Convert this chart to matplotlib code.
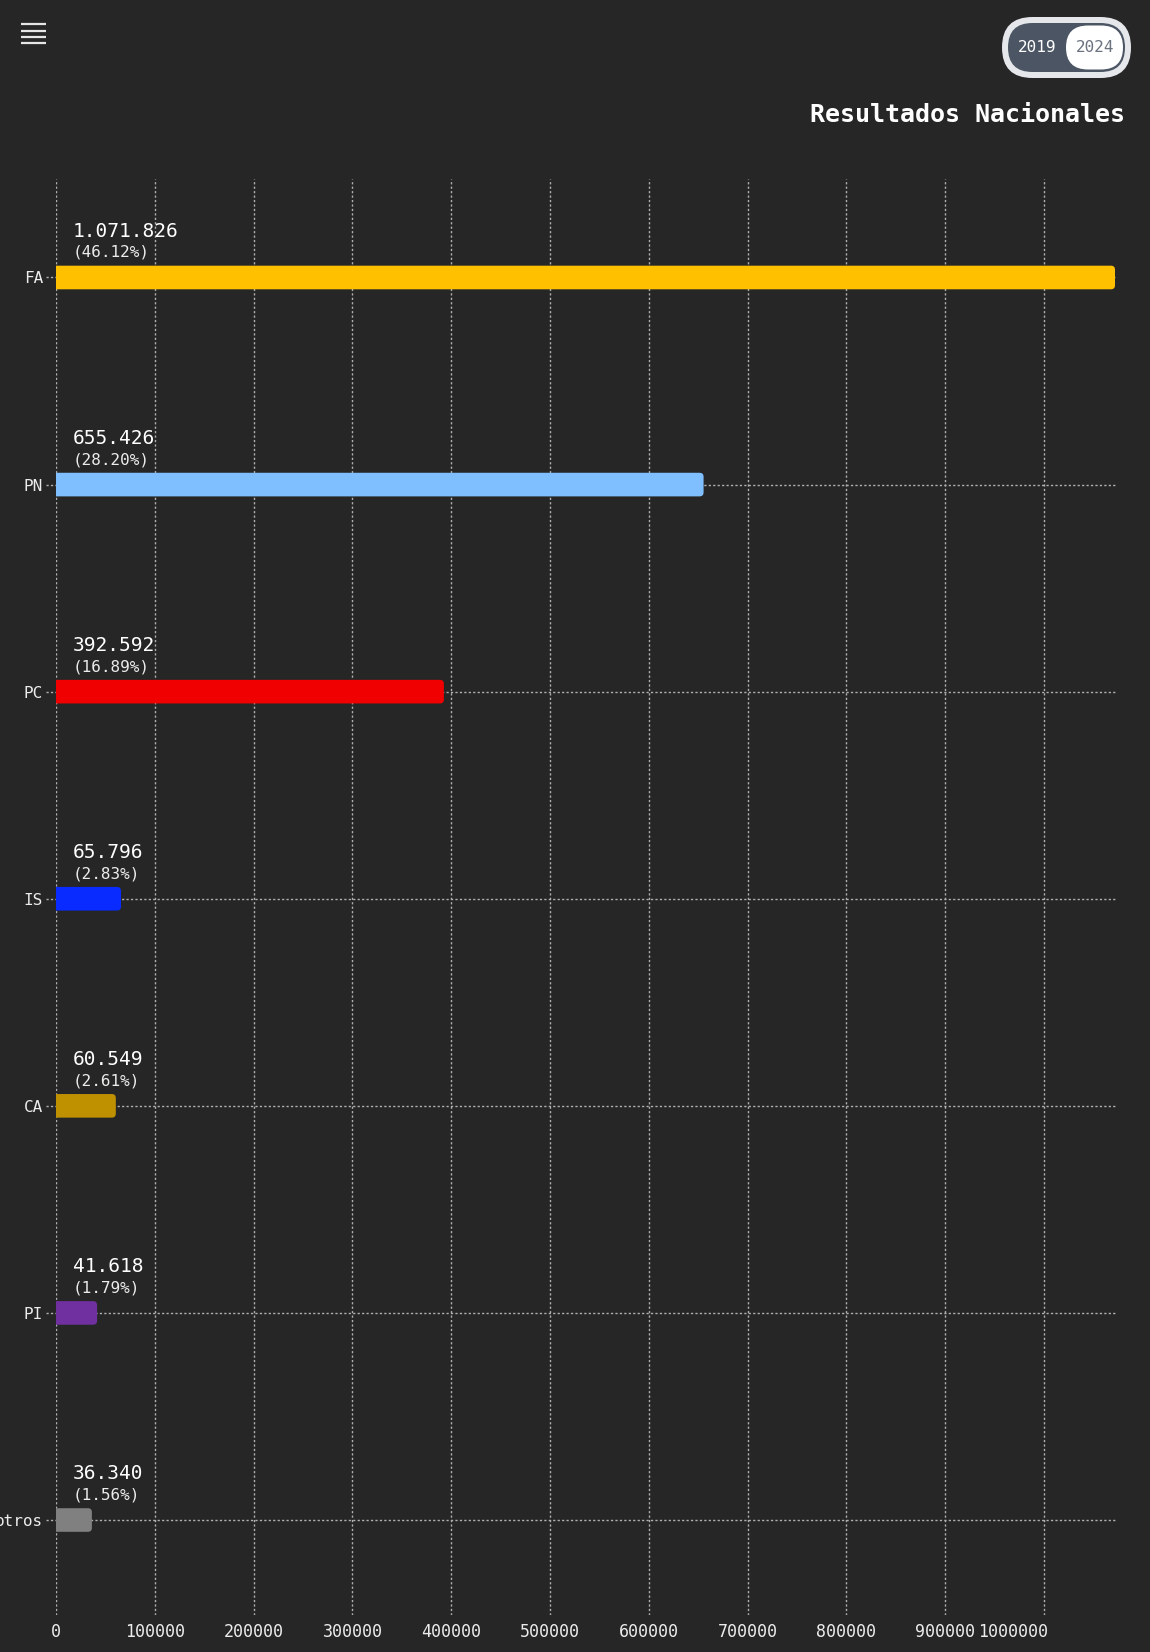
import matplotlib
matplotlib.use("Agg")
import matplotlib.pyplot as plt
from matplotlib.patches import FancyBboxPatch
from matplotlib.transforms import blended_transform_factory, ScaledTranslation
import numpy as np

# ---- data ----
parties = ["FA", "PN", "PC", "IS", "CA", "PI", "otros"]
votes = [1071826, 655426, 392592, 65796, 60549, 41618, 36340]
percents = [46.12, 28.20, 16.89, 2.83, 2.61, 1.79, 1.56]
colors = ["#FFC000", "#80BFFF", "#F00000", "#0A2BFF", "#BF9000", "#7030A0", "#808080"]
xticks = [0, 100000, 200000, 300000, 400000, 500000, 600000, 700000, 800000, 900000, 1000000]
title = "Resultados Nacionales"
toggle_labels = ["2019", "2024"]

plt.rcParams['font.family'] = ['DejaVu Sans Mono', 'DejaVu Sans']

BG = "#262626"
GRID = "#b0b0b0"
TXT = "#ececec"
W, H = 1150, 1652
fig = plt.figure(figsize=(W / 100, H / 100), dpi=100, facecolor=BG)

ax_l, ax_r, ax_t, ax_b = 56, 1115, 179, 1615
ax = fig.add_axes([ax_l / W, 1 - ax_b / H, (ax_r - ax_l) / W, (ax_b - ax_t) / H])
ax.set_facecolor(BG)

y = np.arange(len(parties))
bar_h = 0.114
bars = ax.barh(y, votes, height=bar_h, color=colors, zorder=3)
ax.set_xlim(0, max(votes))
ax.set_ylim(6.4587, -0.4756)

# rounded ends
px_x = max(votes) / (ax_r - ax_l)
px_y = (6.4587 + 0.4756) / (ax_b - ax_t)
rx = 4 * px_x
ry = 4 * px_y
for b in bars:
    x0, y0, w, h = b.get_x(), b.get_y(), b.get_width(), b.get_height()
    fc = b.get_facecolor()
    b.set_visible(False)
    p = FancyBboxPatch((x0 - 2 * rx, y0), w + 2 * rx, h,
                       boxstyle=f"round,pad=0,rounding_size={rx}",
                       mutation_aspect=ry / rx, fc=fc, ec="none", zorder=3)
    ax.add_patch(p)

# grid
ax.set_xticks(xticks)
ax.set_xticklabels([str(t) for t in xticks])
ax.grid(axis='x', color=GRID, linestyle=(0, (1.6, 1.6)), linewidth=1.0, zorder=1)
trans = blended_transform_factory(ax.transAxes, ax.transData)
for yi in y:
    ax.plot([-10 / (ax_r - ax_l), 1], [yi, yi], transform=trans, color=GRID,
            linestyle=(0, (1.6, 1.6)), linewidth=1.0, clip_on=False, zorder=1)

ax.set_yticks(y)
ax.set_yticklabels(parties)
ax.tick_params(axis='y', length=0, pad=9.4, labelsize=11.5, labelcolor=TXT)
ax.tick_params(axis='x', length=0, pad=5.8, labelsize=12, labelcolor=TXT)
# last x label is right-aligned against its tick (as in the reference)
last = ax.get_xticklabels()[-1]
last.set_horizontalalignment('right')
last.set_transform(last.get_transform() + ScaledTranslation(4 / 100, 0, fig.dpi_scale_trans))
for s in ax.spines.values():
    s.set_visible(False)

# value labels
for yi, v, pc in zip(y, votes, percents):
    ax.annotate(f"{v:,}".replace(",", "."), xy=(0, yi), xytext=(12.2, 29.2),
                textcoords='offset points', ha='left', va='baseline',
                fontsize=14, color="white", zorder=5)
    ax.annotate(f"({pc:.2f}%)", xy=(0, yi), xytext=(12.2, 14.8),
                textcoords='offset points', ha='left', va='baseline',
                fontsize=11.5, color=TXT, zorder=5)

# overlay for header elements
oax = fig.add_axes([0, 0, 1, 1], zorder=10)
oax.set_xlim(0, W)
oax.set_ylim(H, 0)
oax.axis('off')
oax.patch.set_alpha(0)

# hamburger
for hy in [24, 30.5, 37, 43]:
    oax.plot([21, 46], [hy, hy], color="#e6e6e6", linewidth=1.6, solid_capstyle='butt')

# toggle
oax.add_patch(FancyBboxPatch((1002, 17), 129, 61, boxstyle="round,pad=0,rounding_size=30.5",
                             fc="#e5e7eb", ec="none"))
oax.add_patch(FancyBboxPatch((1008, 23), 117, 49, boxstyle="round,pad=0,rounding_size=24.5",
                             fc="#4b5563", ec="none"))
oax.add_patch(FancyBboxPatch((1066, 25.5), 57, 44, boxstyle="round,pad=0,rounding_size=22",
                             fc="white", ec="none"))
oax.text(1037, 48, toggle_labels[0], ha='center', va='center', fontsize=11.5, color="white")
oax.text(1095, 48, toggle_labels[1], ha='center', va='center', fontsize=11.5, color="#6b7280")

# title
oax.text(1125, 115, title, ha='right', va='center', fontsize=18, fontweight='bold', color="white")

fig.savefig("out.png", dpi=100, facecolor=BG)
